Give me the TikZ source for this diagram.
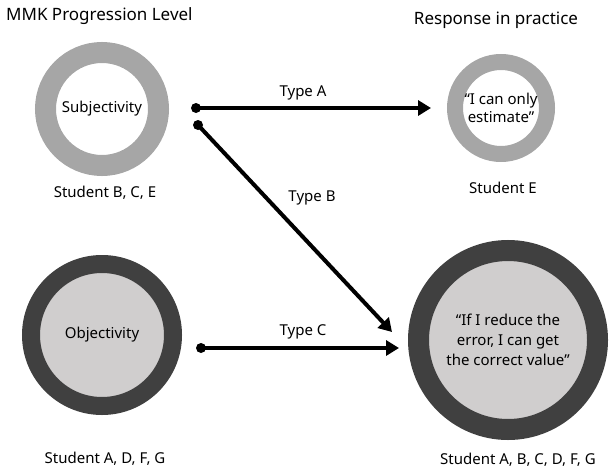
\documentclass[tikz,border=0pt]{standalone}
\usepackage{fontspec}
\setmainfont{Noto Sans}
\usetikzlibrary{arrows.meta}
\definecolor{ringlight}{HTML}{A6A6A6}
\definecolor{ringdark}{HTML}{404040}
\definecolor{corefill}{HTML}{D0CECE}

\begin{document}
\begin{tikzpicture}[x=1pt,y=-1pt,
  ring/.style={circle,inner sep=0pt,align=center,font=\fontsize{15}{19}\selectfont},
  lbl/.style={inner sep=1pt,font=\fontsize{15}{18}\selectfont},
  ttl/.style={inner sep=1pt,font=\fontsize{17}{20}\selectfont},
  link/.style={line width=4pt,-{Triangle[length=13pt,width=15pt]}}]
\useasboundingbox (0,0) rectangle (609,468);
%% titles
\node[ttl,anchor=west] (ttlLevel) at (5,16) {MMK Progression Level};
\node[ttl] (ttlResp) at (496,20) {Response in practice};
%% levels
\node[ring,draw=ringlight,line width=21pt,minimum size=113pt] (subj) at (102,109) {Subjectivity};
\node[ring,draw=ringdark,fill=corefill,line width=18pt,minimum size=142pt] (obj) at (102,335) {Objectivity};
\node[lbl] (stLevelA) at (105,193) {Student B, C, E};
\node[lbl] (stLevelB) at (105,459) {Student A, D, F, G};
%% responses
\node[ring,draw=ringlight,line width=16pt,minimum size=92pt,font=\fontsize{15}{18}\selectfont] (est) at (501,108) {“I can only\\estimate”};
\node[ring,draw=ringdark,fill=corefill,line width=21pt,minimum size=179pt,font=\fontsize{15}{20}\selectfont] (corr) at (508,340) {“If I reduce the\\error, I can get\\the correct value”};
\node[lbl] (stRespA) at (503,188) {Student E};
\node[lbl] (stRespB) at (518,460) {Student A, B, C, D, F, G};
%% arrows
\coordinate (fromA) at (196,108);
\coordinate (toA) at (431,108);
\coordinate (fromB) at (198,125);
\coordinate (toB) at (392,332);
\coordinate (fromC) at (201,348);
\coordinate (toC) at (399,348);
\fill (fromA) circle (5pt);
\fill (fromB) circle (5pt);
\fill (fromC) circle (5pt);
\draw[link] (fromA) -- (toA);
\draw[link] (fromB) -- (toB);
\draw[link] (fromC) -- (toC);
\node[lbl] (typeA) at (303,93) {Type A};
\node[lbl] (typeB) at (312,198) {Type B};
\node[lbl] (typeC) at (303,332) {Type C};

\end{tikzpicture}
\end{document}
